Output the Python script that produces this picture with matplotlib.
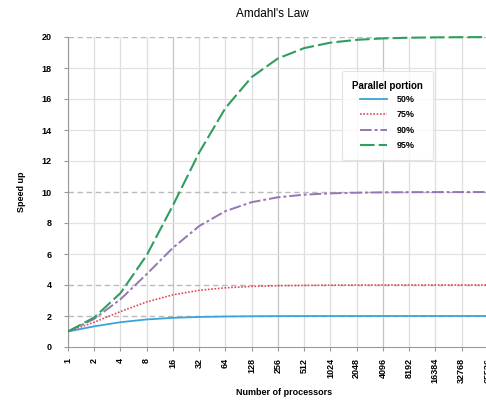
import matplotlib
matplotlib.use("Agg")
import matplotlib.pyplot as plt

# Number of processors (log2 spaced categories)
processors = ["1", "2", "4", "8", "16", "32", "64", "128", "256", "512", "1024",
              "2048", "4096", "8192", "16384", "32768", "65536"]

# Speedup for each parallel portion
speedup_50 = [1.0, 1.333, 1.6, 1.778, 1.882, 1.939, 1.969, 1.984, 1.992, 1.996,
              1.998, 1.999, 2.0, 2.0, 2.0, 2.0, 2.0]
speedup_75 = [1.0, 1.6, 2.286, 2.909, 3.368, 3.657, 3.82, 3.908, 3.954, 3.977,
              3.988, 3.994, 3.997, 3.999, 3.999, 4.0, 4.0]
speedup_90 = [1.0, 1.818, 3.077, 4.706, 6.4, 7.805, 8.767, 9.343, 9.66, 9.827,
              9.912, 9.956, 9.978, 9.989, 9.995, 9.997, 9.999]
speedup_95 = [1.0, 1.905, 3.478, 5.926, 9.143, 12.549, 15.422, 17.415, 18.618,
              19.284, 19.636, 19.817, 19.908, 19.954, 19.977, 19.989, 19.994]

series_labels = ["50%", "75%", "90%", "95%"]
limits = [2, 4, 10, 20]
y_ticks = [0, 2, 4, 6, 8, 10, 12, 14, 16, 18, 20]

sans = ["Liberation Sans", "DejaVu Sans"]

fig = plt.figure(figsize=(4.86, 4.00), dpi=100)
ax = fig.add_axes([68 / 486, 53 / 400, 433 / 486, 310 / 400])

x = list(range(len(processors)))
ax.set_xlim(0, 16.5)
ax.set_ylim(0, 20)

# grid
for i in x:
    c = "#c4c4c4" if i % 4 == 0 else "#dedede"
    ax.axvline(i, color=c, lw=0.9, zorder=0)
for yv in y_ticks[1:]:
    if yv not in limits:
        ax.axhline(yv, color="#e2e2e2", lw=0.9, zorder=0)
for yv in limits:
    ax.axhline(yv, color="#bbbbbb", lw=1.0, ls=(0, (4, 2.5)), zorder=1)

ax.plot(x, speedup_50, color="#3aa3da", lw=1.3, label=series_labels[0], zorder=3)
ax.plot(x, speedup_75, color="#e0485a", lw=1.2, ls=(0, (1, 1)), label=series_labels[1], zorder=3)
ax.plot(x, speedup_90, color="#9675b4", lw=1.4, ls=(0, (6, 1.5, 1.5, 1.5)), label=series_labels[2], zorder=3)
ax.plot(x, speedup_95, color="#2f9e5e", lw=1.5, ls=(0, (7, 2)), label=series_labels[3],
        zorder=3, clip_on=False)

for s in ["top", "right"]:
    ax.spines[s].set_visible(False)
ax.spines["left"].set_color("#999999")
ax.spines["bottom"].set_color("#999999")
ax.spines["left"].set_linewidth(0.8)
ax.spines["bottom"].set_linewidth(0.8)

ax.set_xticks(x)
ax.set_xticklabels(processors, rotation=90, family=sans, fontweight="bold", fontsize=6.5)
ax.set_yticks(y_ticks)
ax.set_yticklabels([str(v) for v in y_ticks], family=sans, fontweight="bold", fontsize=6.5)
ax.tick_params(axis="both", length=3, color="#999999")
ax.tick_params(axis="x", pad=5)
ax.tick_params(axis="y", pad=9)

ax.set_xlabel("Number of processors", family=sans, fontweight="bold", fontsize=6.5, labelpad=3)
ax.set_ylabel("Speed up", family=sans, fontweight="bold", fontsize=6.5, labelpad=11)
fig.text(272 / 486, 1 - 14 / 400, "Amdahl's Law", ha="center", va="center",
         family=sans, fontsize=8.5)

leg = ax.legend(title="Parallel portion", loc="upper left",
                bbox_to_anchor=((342 - 68) / 433, (347 - 71) / 310),
                prop={"family": sans, "weight": "bold", "size": 6.5},
                title_fontproperties={"family": sans, "weight": "bold", "size": 7},
                frameon=True, fancybox=True, handlelength=3.0, labelspacing=0.7,
                borderpad=1.1, handletextpad=1.0, borderaxespad=0.0)
leg.get_frame().set_edgecolor("#dddddd")
leg.get_frame().set_linewidth(0.8)
leg._legend_box.sep = 3

fig.savefig("out.png", dpi=100)
